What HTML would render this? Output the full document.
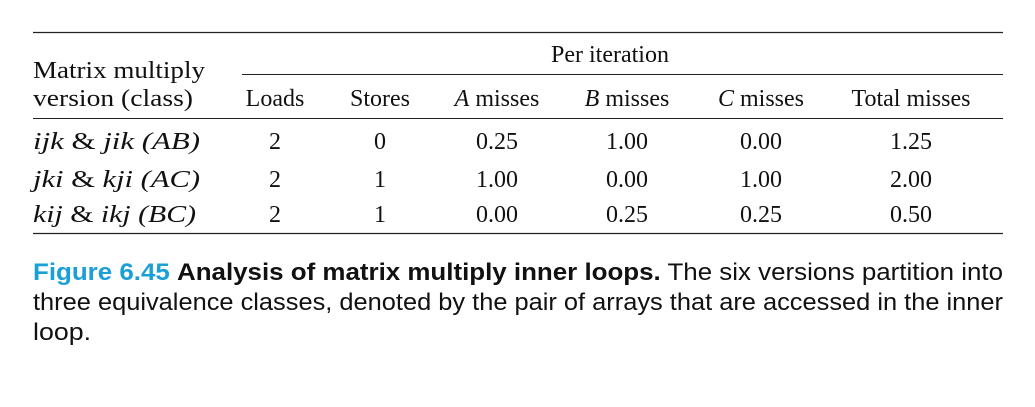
<!DOCTYPE html>
<html><head><meta charset="utf-8"><style>
html,body{margin:0;padding:0;background:#fff;}
svg{display:block}
.s{font-family:"Liberation Serif",serif;font-size:24px;fill:#111}
.c{font-family:"Liberation Sans",sans-serif;font-size:24px;fill:#111}
</style></head><body>
<svg width="1035" height="407" viewBox="0 0 1035 407">
<line x1="33" y1="32.5" x2="1003" y2="32.5" stroke="#222" stroke-width="1.3"/>
<line x1="242" y1="74.5" x2="1003" y2="74.5" stroke="#222" stroke-width="1"/>
<line x1="33" y1="118.5" x2="1003" y2="118.5" stroke="#222" stroke-width="1"/>
<line x1="33" y1="233.5" x2="1003" y2="233.5" stroke="#222" stroke-width="1.3"/>

<g class="s">
<text x="33" y="78" textLength="172" lengthAdjust="spacingAndGlyphs">Matrix multiply</text>
<text x="33" y="106" textLength="160" lengthAdjust="spacingAndGlyphs">version (class)</text>
<text x="610" y="62" text-anchor="middle">Per iteration</text>
<g text-anchor="middle">
<text x="275" y="106">Loads</text>
<text x="380" y="106">Stores</text>
<text x="497" y="106"><tspan font-style="italic">A</tspan> misses</text>
<text x="627" y="106"><tspan font-style="italic">B</tspan> misses</text>
<text x="761" y="106"><tspan font-style="italic">C</tspan> misses</text>
<text x="911" y="106">Total misses</text>
</g>
<g font-style="italic">
<text x="33" y="149" textLength="167" lengthAdjust="spacingAndGlyphs">ijk <tspan font-style="normal">&amp;</tspan> jik (AB)</text>
<text x="33" y="187" textLength="167" lengthAdjust="spacingAndGlyphs">jki <tspan font-style="normal">&amp;</tspan> kji (AC)</text>
<text x="33" y="222" textLength="163" lengthAdjust="spacingAndGlyphs">kij <tspan font-style="normal">&amp;</tspan> ikj (BC)</text>
</g>
<g text-anchor="middle">
<text x="275" y="149">2</text>
<text x="380" y="149">0</text>
<text x="497" y="149">0.25</text>
<text x="627" y="149">1.00</text>
<text x="761" y="149">0.00</text>
<text x="911" y="149">1.25</text>
<text x="275" y="187">2</text>
<text x="380" y="187">1</text>
<text x="497" y="187">1.00</text>
<text x="627" y="187">0.00</text>
<text x="761" y="187">1.00</text>
<text x="911" y="187">2.00</text>
<text x="275" y="222">2</text>
<text x="380" y="222">1</text>
<text x="497" y="222">0.00</text>
<text x="627" y="222">0.25</text>
<text x="761" y="222">0.25</text>
<text x="911" y="222">0.50</text>
</g>
</g>

<g class="c">
<text x="33" y="280" textLength="970" lengthAdjust="spacingAndGlyphs"><tspan fill="#1a9fd9" font-weight="bold">Figure 6.45</tspan>   <tspan font-weight="bold">Analysis of matrix multiply inner loops.</tspan> The six versions partition into</text>
<text x="33" y="310" textLength="970" lengthAdjust="spacingAndGlyphs">three equivalence classes, denoted by the pair of arrays that are accessed in the inner</text>
<text x="33" y="340" textLength="58" lengthAdjust="spacingAndGlyphs">loop.</text>
</g>
</svg>
</body></html>
